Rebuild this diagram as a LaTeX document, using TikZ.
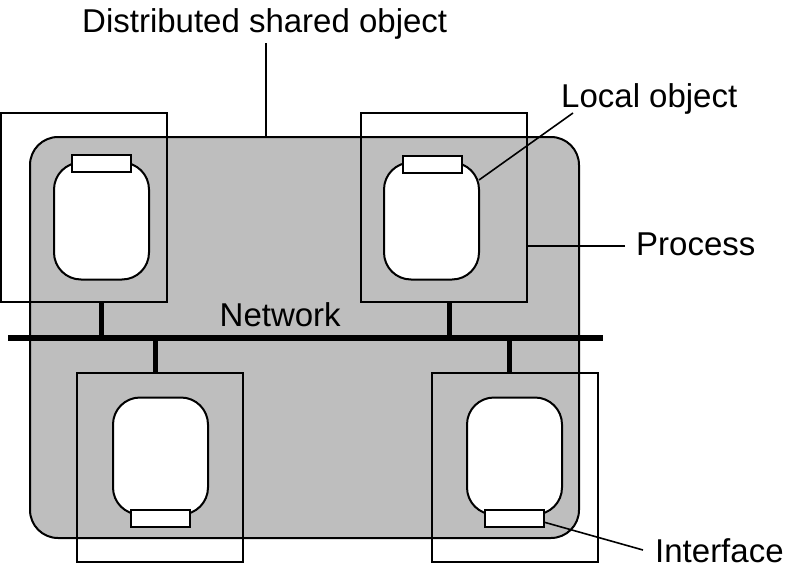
\documentclass[tikz,border=0pt]{standalone}
\usepackage{fontspec}
\setmainfont{Liberation Sans}
\definecolor{dsogray}{RGB}{190,190,190}
\begin{document}
\begin{tikzpicture}[x=1pt,y=-1pt,
  dso/.style={draw, fill=dsogray, line width=2pt, rounded corners=28pt, inner sep=0pt, outer sep=0pt, minimum width=549pt, minimum height=401pt},
  proc/.style={draw, line width=1.9pt, inner sep=0pt, outer sep=0pt, minimum width=166pt, minimum height=189pt},
  lobj/.style={draw, fill=white, line width=2pt, rounded corners=27pt, inner sep=0pt, outer sep=0pt, minimum width=95pt, minimum height=117pt},
  iface/.style={draw, fill=white, line width=2pt, inner sep=0pt, outer sep=0pt, minimum width=59pt, minimum height=17pt},
  net/.style={line width=5.5pt},
  stub/.style={line width=5pt},
  lead/.style={line width=1.6pt},
  lbl/.style={font=\fontsize{33}{38}\selectfont, inner sep=0pt, anchor=base west}
]
\useasboundingbox (0,0) rectangle (786,570);
% distributed shared object
\node[dso] (dso) at (304.5,337.5) {};
% processes
\node[proc] (p1) at (84,207.5) {};
\node[proc] (p2) at (444,207.5) {};
\node[proc] (p3) at (160,467.5) {};
\node[proc] (p4) at (515,467.5) {};
% network
\coordinate (netL) at (8,338);
\coordinate (netR) at (603,338);
\draw[net] (netL) -- (netR);
\coordinate (s1) at (101,338);
\coordinate (s2) at (449,338);
\coordinate (s3) at (155,338);
\coordinate (s4) at (509,338);
\draw[stub] (s1) -- (s1 |- p1.south);
\draw[stub] (s2) -- (s2 |- p2.south);
\draw[stub] (s3) -- (s3 |- p3.north);
\draw[stub] (s4) -- (s4 |- p4.north);
% local objects
\node[lobj] (lo1) at (101.5,221) {};
\node[lobj] (lo2) at (431.5,221) {};
\node[lobj] (lo3) at (160.5,456) {};
\node[lobj] (lo4) at (514.5,456) {};
% interfaces
\node[iface] (if1) at (101.5,163.5) {};
\node[iface] (if2) at (432,164) {};
\node[iface] (if3) at (160.5,518) {};
\node[iface] (if4) at (514,518) {};
% labels
\node[lbl] (tnet) at (219.5,326) {Network};
\node[lbl] (tdso) at (82,32) {Distributed shared object};
\node[lbl] (tlo) at (561,107) {Local object};
\node[lbl] (tproc) at (636,255) {Process};
\node[lbl] (tif) at (655,562) {Interface};
% leaders
\coordinate (c1) at (266,43);
\draw[lead] (c1) -- (c1 |- dso.north);
\coordinate (c2) at (573,113);
\draw[lead] (c2) -- ([yshift=41pt]lo2.east);
\coordinate (c3) at (625,246);
\draw[lead] (c3) -- (c3 -| p2.east);
\coordinate (c4) at (643,550);
\draw[lead] (c4) -- ([yshift=-4pt]if4.east);
\end{tikzpicture}
\end{document}
